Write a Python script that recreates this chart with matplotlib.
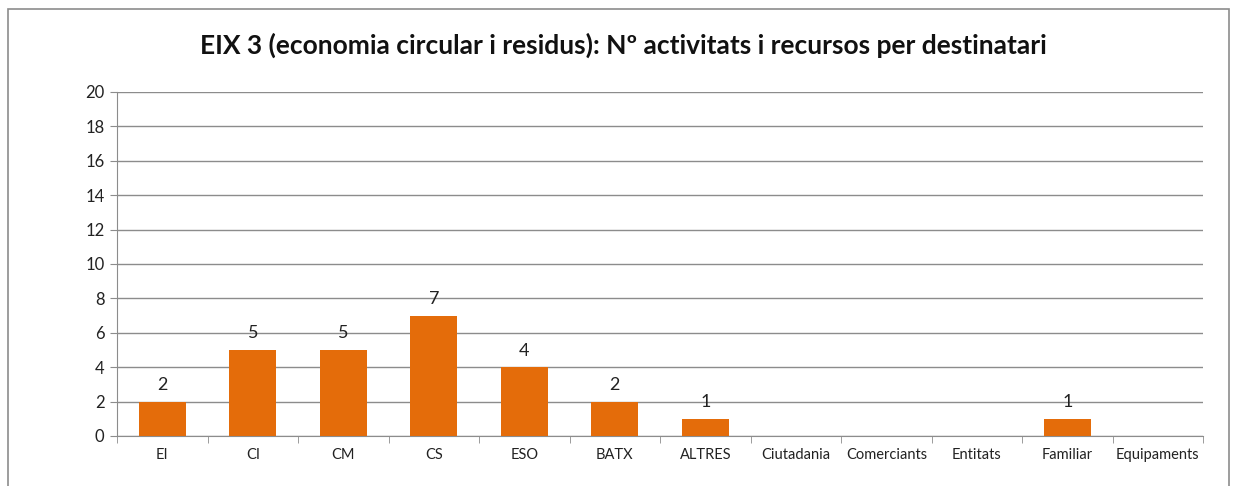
import matplotlib.pyplot as plt
import numpy as np
from matplotlib.patches import Rectangle

categories = ['EI', 'CI', 'CM', 'CS', 'ESO', 'BATX', 'ALTRES', 'Ciutadania',
              'Comerciants', 'Entitats', 'Familiar', 'Equipaments']
values = [2, 5, 5, 7, 4, 2, 1, 0, 0, 0, 1, 0]
title = 'EIX 3 (economia circular i residus): Nº activitats i recursos per destinatari'

plt.rcParams['font.family'] = ['Lato', 'DejaVu Sans']

fig = plt.figure(figsize=(12.37, 4.86), dpi=100)
fig.patches.append(Rectangle((0.0065, -0.1), 0.987, 1.0815, transform=fig.transFigure,
                             fill=False, edgecolor='#8c8c8c', linewidth=1.2))
ax = fig.add_axes([0.0946, 0.1029, 0.878, 0.7078])

x = np.arange(len(categories))
ax.bar(x, values, width=0.52, color='#E46C0A', zorder=3)
for xi, v in zip(x, values):
    if v > 0:
        ax.text(xi, v + 0.5, str(v), ha='center', va='bottom', fontsize=13, color='#222222')

ax.set_xlim(-0.5, len(categories) - 0.5)
ax.set_ylim(0, 20)
ax.set_yticks(range(0, 21, 2))
ax.yaxis.grid(True, color='#8c8c8c', linewidth=1)
ax.set_axisbelow(True)

ax.set_xticks(x)
ax.set_xticklabels(categories, fontsize=10.5, color='#222222')
ax.set_xticks(np.arange(-0.5, len(categories)), minor=True)
ax.tick_params(axis='x', which='major', length=0, pad=9)
ax.tick_params(axis='x', which='minor', length=5, color='#8c8c8c', direction='out')
ax.tick_params(axis='y', length=5, color='#8c8c8c', labelsize=12, labelcolor='#222222', pad=4)

for s in ['top', 'right']:
    ax.spines[s].set_visible(False)
ax.spines['left'].set_color('#8c8c8c')
ax.spines['bottom'].set_color('#8c8c8c')

fig.text(0.504, 0.907, title, ha='center', va='center', fontsize=19, fontweight='bold', color='#111111')

fig.savefig('out.png', dpi=100)
